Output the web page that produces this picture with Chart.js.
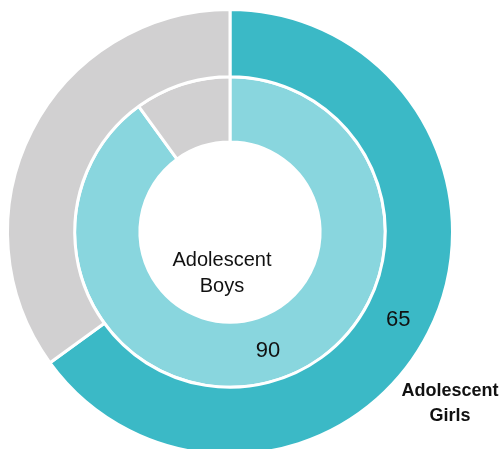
<!DOCTYPE html>
<html>
<head>
<meta charset="utf-8">
<script src="https://cdn.jsdelivr.net/npm/chart.js@4/dist/chart.umd.min.js"></script>
<style>
  html, body { margin: 0; padding: 0; background: #fff; overflow: hidden; }
  #wrap { width: 503px; height: 470px; }
</style>
</head>
<body>
<div id="wrap"><canvas id="ringChart" width="503" height="470"></canvas></div>
<script>
// Share of each group (reached / not reached)
const segments = ['Reached', 'Not reached'];
const girlsValues = [65, 35];
const boysValues = [90, 10];
const girlsLabel = ['Adolescent', 'Girls'];
const boysLabel = ['Adolescent', 'Boys'];

const FONT = '"Liberation Sans", Arial, sans-serif';

// value on the first arc of each ring, plus the group names
const ringLabels = {
    id: 'ringLabels',
    afterDatasetsDraw(chart) {
        const ctx = chart.ctx;
        ctx.save();
        ctx.fillStyle = '#111';
        ctx.textAlign = 'center';
        ctx.textBaseline = 'middle';
        ctx.font = '22px ' + FONT;
        chart.data.datasets.forEach((ds, i) => {
            const arc = chart.getDatasetMeta(i).data[0];
            const p = arc.tooltipPosition();
            ctx.fillText(String(ds.data[0]), p.x, p.y + 2);
        });

        const c = chart.getDatasetMeta(0).data[0];
        ctx.font = '20px ' + FONT;
        ctx.fillText(boysLabel[0], c.x - 8, c.y + 28);
        ctx.fillText(boysLabel[1], c.x - 8, c.y + 54);

        ctx.font = 'bold 18px ' + FONT;
        ctx.fillText(girlsLabel[0], c.x + 220, c.y + 159);
        ctx.fillText(girlsLabel[1], c.x + 220, c.y + 184);
        ctx.restore();
    }
};

new Chart(document.getElementById('ringChart'), {
    type: 'doughnut',
    data: {
        labels: segments,
        datasets: [{
            label: 'Adolescent Girls',
            data: girlsValues,
            backgroundColor: ['#3bb9c6', '#d1d0d1'],
            borderColor: '#fff',
            borderWidth: 3
        }, {
            label: 'Adolescent Boys',
            data: boysValues,
            backgroundColor: ['#89d6de', '#d1d0d1'],
            borderColor: '#fff',
            borderWidth: 3,
            weight: 0.97
        }]
    },
    options: {
        responsive: false,
        animation: false,
        cutout: '40.5%',
        layout: { padding: { left: 6, top: 8, right: 49, bottom: 14 } },
        plugins: {
            legend: { display: false },
            tooltip: { enabled: false }
        }
    },
    plugins: [ringLabels]
});
</script>
</body>
</html>
